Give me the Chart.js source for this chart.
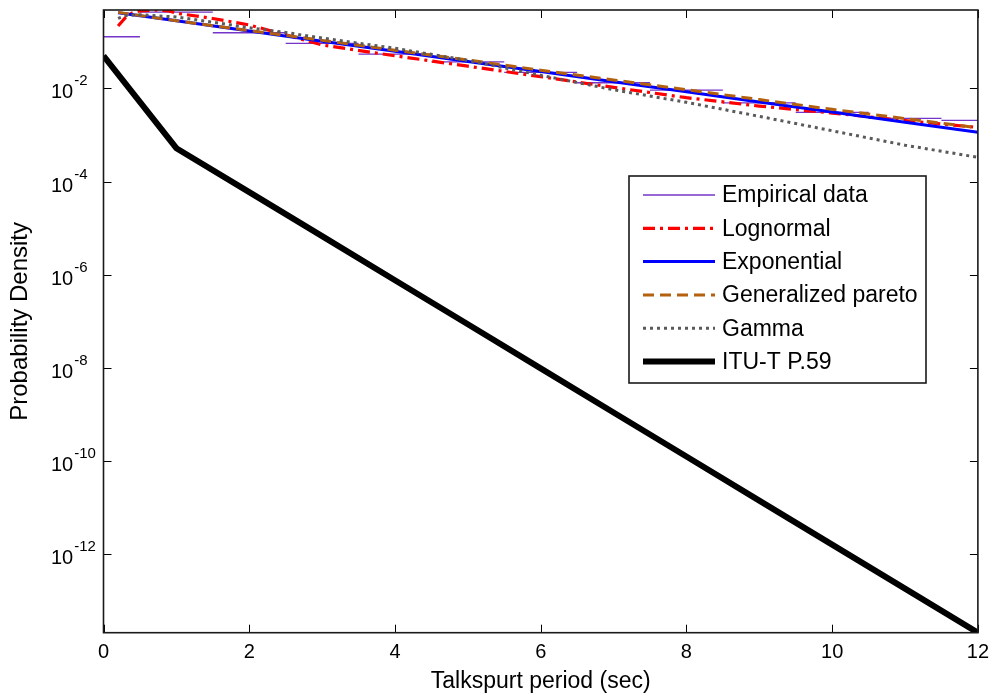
<!DOCTYPE html>
<html>
<head>
<meta charset="utf-8">
<script src="https://cdn.jsdelivr.net/npm/chart.js@4.4.1/dist/chart.umd.min.js"></script>
<style>
  html, body { margin: 0; padding: 0; background: #fff; }
  canvas { display: block; }
</style>
</head>
<body>
<canvas id="c" width="997" height="695" style="width:997px;height:695px"></canvas>
<script>
// Histogram of measured talkspurt durations (one bin per second, centred on each integer)
const empiricalX = [0, 1, 2, 3, 4, 5, 6, 7, 8, 9, 10, 11, 12];
const empiricalY = [0.128, 0.433, 0.156, 0.092, 0.0545, 0.037, 0.022, 0.0132, 0.0092, 0.0049, 0.00305, 0.00227, 0.00206];

// Fitted distributions
const lognormalX = [0.2, 0.3, 0.4, 0.5, 0.7, 0.9, 1, 1.5, 2, 2.5, 3, 4, 5, 6, 7, 8, 9, 10, 11, 12];
const lognormalY = [0.217, 0.33, 0.42, 0.46, 0.48, 0.46, 0.41, 0.316, 0.229, 0.141, 0.085, 0.050, 0.0299, 0.0178, 0.0105, 0.0063, 0.00417, 0.00295, 0.00204, 0.00145];

const exponentialX = [0.2, 1, 2, 3, 4, 5, 6, 7, 8, 9, 10, 11, 12];
const exponentialY = [0.418, 0.281, 0.170, 0.103, 0.0624, 0.0378, 0.0229, 0.0139, 0.00843, 0.00511, 0.00310, 0.00188, 0.00114];

const paretoX = [0.2, 1, 2, 3, 4, 5, 6, 7, 8, 9, 10, 11, 12];
const paretoY = [0.427, 0.282, 0.174, 0.107, 0.066, 0.0407, 0.0245, 0.0151, 0.00933, 0.00575, 0.00355, 0.00224, 0.00143];

const gammaX = [0.2, 0.3, 0.5, 1, 1.5, 2, 2.5, 3, 4, 5, 6, 7, 8, 9, 10, 11, 12];
const gammaY = [0.316, 0.363, 0.380, 0.339, 0.263, 0.200, 0.158, 0.120, 0.0724, 0.0398, 0.0191, 0.00933, 0.00501, 0.00251, 0.00123, 0.000603, 0.000331];

// ITU-T P.59 talkspurt model
const ituX = [0, 1, 2, 3, 4, 5, 6, 7, 8, 9, 10, 11, 12];
const ituY = [0.05, 5.2e-4, 5.95e-5, 6.75e-6, 7.64e-7, 8.67e-8, 9.82e-9, 1.11e-9, 1.26e-10, 1.43e-11, 1.62e-12, 1.84e-13, 2.09e-14];

// Axis ticks and limits
const xTicks = [0, 2, 4, 6, 8, 10, 12];
const yTicks = [1e-12, 1e-10, 1e-8, 1e-6, 1e-4, 1e-2];
const yExponents = ['-12', '-10', '-8', '-6', '-4', '-2'];
const xRange = [0, 12];
const yRange = [2.09e-14, 0.48];

const FONT = '"Liberation Sans", Arial, Helvetica, sans-serif';

function pts(xs, ys) { return xs.map((x, i) => ({ x: x, y: ys[i] })); }

// each histogram bin is drawn as a flat segment across its width
function binTops(xs, ys) {
  const out = [];
  xs.forEach((x, i) => {
    const lo = Math.max(xRange[0], x - 0.5), hi = Math.min(xRange[1], x + 0.5);
    out.push({ x: lo, y: ys[i] }, { x: hi, y: ys[i] }, { x: hi, y: null });
  });
  return out;
}

const series = [
  { label: 'Empirical data', data: binTops(empiricalX, empiricalY), borderColor: '#7434c8', borderWidth: 1.3, borderDash: [], spanGaps: false },
  { label: 'Lognormal', data: pts(lognormalX, lognormalY), borderColor: '#ff0000', borderWidth: 3.2, borderDash: [12, 5, 3, 5] },
  { label: 'Exponential', data: pts(exponentialX, exponentialY), borderColor: '#0000ff', borderWidth: 3, borderDash: [] },
  { label: 'Generalized pareto', data: pts(paretoX, paretoY), borderColor: '#b3600f', borderWidth: 3, borderDash: [11, 6] },
  { label: 'Gamma', data: pts(gammaX, gammaY), borderColor: '#5a5a5a', borderWidth: 3, borderDash: [3, 4] },
  { label: 'ITU-T P.59', data: pts(ituX, ituY), borderColor: '#000000', borderWidth: 6, borderDash: [] }
];

// later series are painted over earlier ones
const datasets = series.map((s, i) => Object.assign({
  pointRadius: 0,
  fill: false,
  tension: 0,
  order: series.length - i
}, s));

const framePlugin = {
  id: 'frame',
  afterDraw(chart) {
    const ctx = chart.ctx;
    const a = chart.chartArea;
    const xs = chart.scales.x, ys = chart.scales.y;
    ctx.save();
    ctx.strokeStyle = '#000';
    ctx.lineWidth = 1;
    // inward tick marks on all four sides
    const tl = 8;
    ctx.beginPath();
    xTicks.forEach(v => {
      const px = Math.round(xs.getPixelForValue(v)) + 0.5;
      ctx.moveTo(px, a.bottom); ctx.lineTo(px, a.bottom - tl);
      ctx.moveTo(px, a.top); ctx.lineTo(px, a.top + tl);
    });
    yTicks.forEach(v => {
      const py = Math.round(ys.getPixelForValue(v)) + 0.5;
      ctx.moveTo(a.left, py); ctx.lineTo(a.left + tl, py);
      ctx.moveTo(a.right, py); ctx.lineTo(a.right - tl, py);
    });
    ctx.stroke();
    // axes box
    ctx.lineWidth = 1.6;
    ctx.strokeStyle = '#1a1a1a';
    ctx.strokeRect(a.left, a.top, a.right - a.left, a.bottom - a.top);

    // power-of-ten tick labels
    ctx.fillStyle = '#000';
    ctx.textBaseline = 'alphabetic';
    ctx.textAlign = 'left';
    yTicks.forEach((v, i) => {
      const py = ys.getPixelForValue(v);
      ctx.font = '20px ' + FONT;
      ctx.fillText('10', 51, py + 10);
      const w = ctx.measureText('10').width;
      ctx.font = '15px ' + FONT;
      ctx.fillText(yExponents[i], 51 + w + 1, py - 3);
    });

    // legend
    const lx = 629, ly = 176, lw = 297, lh = 207;
    ctx.fillStyle = '#fff';
    ctx.fillRect(lx, ly, lw, lh);
    ctx.lineWidth = 1.6;
    ctx.strokeStyle = '#1a1a1a';
    ctx.strokeRect(lx, ly, lw, lh);
    chart.data.datasets.forEach((d, i) => {
      const cy = 195 + i * 33.3;
      ctx.save();
      ctx.strokeStyle = d.borderColor;
      ctx.lineWidth = d.borderWidth;
      ctx.setLineDash(d.borderDash || []);
      ctx.beginPath();
      ctx.moveTo(643, cy); ctx.lineTo(715, cy);
      ctx.stroke();
      ctx.restore();
      ctx.fillStyle = '#000';
      ctx.font = '23px ' + FONT;
      ctx.textBaseline = 'middle';
      ctx.fillText(d.label, 722, cy + 1);
    });
    ctx.restore();
  }
};

new Chart(document.getElementById('c'), {
  type: 'line',
  data: { datasets: datasets },
  options: {
    responsive: false,
    devicePixelRatio: 1,
    animation: false,
    events: [],
    layout: { padding: { top: 10, right: 16.5, left: 0, bottom: 0 } },
    plugins: { legend: { display: false }, tooltip: { enabled: false } },
    scales: {
      x: {
        type: 'linear',
        min: xRange[0], max: xRange[1],
        afterBuildTicks: s => { s.ticks = xTicks.map(v => ({ value: v })); },
        afterFit: s => { s.height = 62.3; },
        grid: { display: false, drawTicks: false },
        border: { display: false },
        ticks: { color: '#000', font: { family: FONT, size: 20 }, padding: 8, maxRotation: 0, autoSkip: false, callback: v => String(v) },
        title: { display: true, text: 'Talkspurt period (sec)', color: '#000', font: { family: FONT, size: 23 }, padding: { top: 0, bottom: 0 } }
      },
      y: {
        type: 'logarithmic',
        min: yRange[0], max: yRange[1],
        afterBuildTicks: s => { s.ticks = yTicks.map(v => ({ value: v })); },
        afterFit: s => { s.width = 103.5; },
        grid: { display: false, drawTicks: false },
        border: { display: false },
        ticks: { display: false },
        title: { display: true, text: 'Probability Density', color: '#000', font: { family: FONT, size: 24 }, padding: { top: 6, bottom: 0 } }
      }
    }
  },
  plugins: [framePlugin]
});
</script>
</body>
</html>
